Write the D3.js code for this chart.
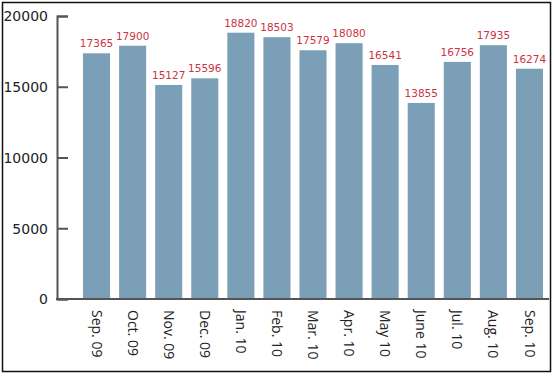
<!DOCTYPE html>
<html>
<head>
<meta charset="utf-8">
<script src="https://cdn.jsdelivr.net/npm/d3@7"></script>
<style>
  body { margin: 0; background: #fff; }
  svg { display: block; }
</style>
</head>
<body>
<div id="chart"></div>
<script>
var months = ["Sep. 09", "Oct. 09", "Nov. 09", "Dec. 09", "Jan. 10", "Feb. 10", "Mar. 10",
              "Apr. 10", "May 10", "June 10", "Jul. 10", "Aug. 10", "Sep. 10"];
var visits = [17365, 17900, 15127, 15596, 18820, 18503, 17579, 18080, 16541, 13855, 16756, 17935, 16274];
var yTicks = [0, 5000, 10000, 15000, 20000];

function init(){
    var w = 554;
    var h = 376;

    var svg = d3.select("#chart")
                .append("svg")
                .attr("width", w)
                .attr("height", h);

    // frame round the picture
    svg.append("rect")
        .attr("x", 2.5).attr("y", 2.5)
        .attr("width", 548).attr("height", 369)
        .attr("fill", "none")
        .attr("stroke", "#111")
        .attr("stroke-width", 1.5);

    var xscale = d3.scaleBand()
                    .domain(months)
                    .range([74, 552])
                    .paddingInner(0.25)
                    .paddingOuter(0.25);

    var yscale = d3.scaleLinear()
                    .domain([0, 20000])
                    .range([299, 16]);

    svg.selectAll("rect.bar")
        .data(visits)
        .enter()
        .append("rect")
        .attr("class", "bar")
        .attr("x", function(d, i) { return xscale(months[i]); })
        .attr("y", function(d) { return yscale(d); })
        .attr("width", xscale.bandwidth())
        .attr("height", function(d) { return yscale(0) - yscale(d); })
        .attr("fill", "#7b9fb6");

    svg.selectAll("text.val")
        .data(visits)
        .enter()
        .append("text")
        .attr("class", "val")
        .text(function(d) { return d; })
        .attr("x", function(d, i) { return xscale(months[i]) + xscale.bandwidth() / 2; })
        .attr("y", function(d) { return yscale(d) - 6; })
        .attr("text-anchor", "middle")
        .style("font-family", "DejaVu Sans, sans-serif")
        .style("font-size", "10.5px")
        .attr("fill", "#cc3344");

    // y axis, ticks pointing into the plot
    var yAxis = d3.axisRight(yscale)
                    .tickValues(yTicks)
                    .tickSize(11)
                    .tickFormat(d3.format("d"));

    var gy = svg.append("g")
        .attr("transform", "translate(57, 0)")
        .call(yAxis);
    gy.select(".domain").attr("stroke", "#555").attr("stroke-width", 2);
    gy.selectAll(".tick line").attr("stroke", "#555").attr("stroke-width", 2);
    gy.selectAll(".tick text")
        .attr("x", -9)
        .attr("text-anchor", "end")
        .attr("dy", "0.35em")
        .style("font-family", "DejaVu Sans, sans-serif")
        .style("font-size", "14px")
        .attr("fill", "#222");

    // x axis
    var xAxis = d3.axisBottom(xscale).tickSize(0).tickSizeOuter(0);
    var gx = svg.append("g")
        .attr("transform", "translate(0, 299)")
        .call(xAxis);
    gx.select(".domain")
        .attr("d", "M56,0H549")
        .attr("stroke", "#555")
        .attr("stroke-width", 2);
    gx.selectAll(".tick text")
        .attr("transform", "rotate(90)")
        .attr("x", 11)
        .attr("y", 0)
        .attr("dy", "0.35em")
        .attr("text-anchor", "start")
        .style("font-family", "Open Sans, sans-serif")
        .style("font-size", "14px")
        .attr("fill", "#222");
}
window.onload = init;
</script>
</body>
</html>
